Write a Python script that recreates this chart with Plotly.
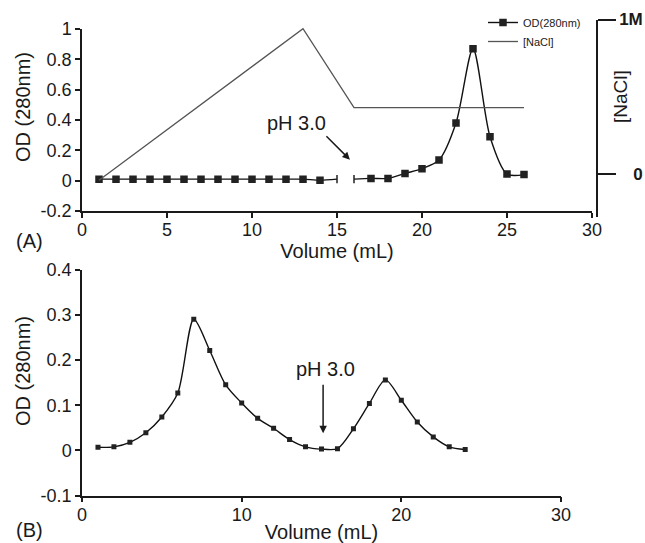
import plotly.graph_objects as go

# ---------------- data ----------------
# Panel A: OD(280nm) in two segments (gap around the pH 3.0 switch)
vol_a1 = [1, 2, 3, 4, 5, 6, 7, 8, 9, 10, 11, 12, 13, 14, 15]
od_a1 = [0.01, 0.01, 0.01, 0.01, 0.01, 0.01, 0.01, 0.01, 0.01, 0.01, 0.01, 0.01, 0.01, 0.003, 0.01]
vol_a2 = [16, 17, 18, 19, 20, 21, 22, 23, 24, 25, 26]
od_a2 = [0.01, 0.015, 0.015, 0.048, 0.079, 0.136, 0.38, 0.87, 0.29, 0.044, 0.04]

# Panel A: NaCl gradient (right axis, M)
vol_nacl = [1, 13, 16, 26]
nacl = [-0.04, 0.94, 0.43, 0.43]

# Panel B: OD(280nm)
vol_b = [1, 2, 3, 4, 5, 6, 7, 8, 9, 10, 11, 12, 13, 14, 15, 16, 17, 18, 19, 20, 21, 22, 23, 24]
od_b = [0.007, 0.008, 0.018, 0.039, 0.074, 0.127, 0.29, 0.221, 0.145, 0.105, 0.071, 0.049,
        0.024, 0.008, 0.003, 0.004, 0.048, 0.104, 0.156, 0.111, 0.063, 0.030, 0.008, 0.002]

# tick labels
a_yticks = [-0.2, 0, 0.2, 0.4, 0.6, 0.8, 1]
a_ytext = ["-0.2", "0", "0.2", "0.4", "0.6", "0.8", "1"]
a_xticks = [0, 5, 10, 15, 20, 25, 30]
b_yticks = [-0.1, 0, 0.1, 0.2, 0.3, 0.4]
b_ytext = ["-0.1", "0", "0.1", "0.2", "0.3", "0.4"]
b_xticks = [0, 10, 20, 30]
nacl_ticks = [0, 1]
nacl_text = ["<b>\u2007\u00a00</b>", "<b>1M</b>"]

# ---------------- layout helpers ----------------
W, H = 645, 543
def fx(p):
    return p / W
def fy(p):
    return 1 - p / H

FONT = "Liberation Sans, Arial, Helvetica, sans-serif"
TXT = "#1a1a1a"
LINE = "#1a1a1a"

# combined A series with a break
x_a = vol_a1 + [None] + vol_a2
y_a = od_a1 + [None] + od_a2
sym_a = (["square"] * (len(vol_a1) - 1) + ["line-ns"] + ["square"]
         + ["line-ns"] + ["square"] * (len(vol_a2) - 1))

fig = go.Figure()

fig.add_trace(go.Scatter(
    x=x_a, y=y_a, mode="lines+markers", name="OD(280nm)",
    line=dict(color="#111111", width=1.4, shape="spline", smoothing=0.8),
    marker=dict(symbol=sym_a, size=6, color="#222222",
                line=dict(color="#222222", width=1.5)),
    connectgaps=False, xaxis="x", yaxis="y",
))
fig.add_trace(go.Scatter(
    x=vol_nacl, y=nacl, mode="lines", name="[NaCl]",
    line=dict(color="#555555", width=1.3),
    xaxis="x3", yaxis="y3",
))
fig.add_trace(go.Scatter(
    x=vol_b, y=od_b, mode="lines+markers", name="OD(280nm) B", showlegend=False,
    line=dict(color="#111111", width=1.4, shape="spline", smoothing=0.8),
    marker=dict(symbol="square", size=5, color="#222222"),
    xaxis="x2", yaxis="y2",
))

axis_common = dict(showgrid=False, zeroline=False, showline=True, linecolor=LINE,
                   linewidth=1.5, ticks="outside", ticklen=5, tickwidth=1.5,
                   tickcolor=LINE, tickfont=dict(size=18, color=TXT, family=FONT),
                   automargin=False)

fig.update_layout(
    width=W, height=H,
    margin=dict(l=0, r=0, t=0, b=0),
    paper_bgcolor="white", plot_bgcolor="rgba(0,0,0,0)",
    font=dict(family=FONT, color=TXT),
    showlegend=True,
    legend=dict(x=fx(483), y=fy(8), xanchor="left", yanchor="top",
                font=dict(size=11, color=TXT, family=FONT),
                bgcolor="rgba(0,0,0,0)", borderwidth=0,
                tracegroupgap=0),
    xaxis=dict(domain=[fx(82), fx(592)], range=[0, 30], tickvals=a_xticks,
               anchor="y", ticklabelstandoff=-3,
               title=dict(text="Volume (mL)", font=dict(size=20, color=TXT), standoff=0),
               **axis_common),
    yaxis=dict(domain=[fy(211), fy(29)], range=[-0.2, 1], tickvals=a_yticks,
               ticktext=a_ytext, anchor="x",
               **axis_common),
    # hidden x axis carrying the NaCl trace, same scale as panel A, ending at right axis
    xaxis3=dict(domain=[fx(82), fx(596)], range=[0, 514 / 17.0], visible=False,
                anchor="y3"),
    yaxis3=dict(domain=[fy(217), fy(19.5)], range=[-0.278, 1.0], tickvals=nacl_ticks,
                ticktext=nacl_text, anchor="x3", side="right",
                showgrid=False, zeroline=False, showline=True, linecolor=LINE,
                linewidth=1.5, ticks="outside", ticklen=18, tickwidth=1.5,
                tickcolor=LINE, tickfont=dict(size=17, color=TXT, family=FONT),
                automargin=False),
    xaxis2=dict(domain=[fx(82), fx(561)], range=[0, 30], tickvals=b_xticks,
                anchor="y2", ticklabelstandoff=-3,
                title=dict(text="Volume (mL)", font=dict(size=20, color=TXT), standoff=2),
                **axis_common),
    yaxis2=dict(domain=[fy(495.7), fy(269.5)], range=[-0.1, 0.4], tickvals=b_yticks,
                ticktext=b_ytext, anchor="x2",
                **axis_common),
)

ann_font = dict(size=20, color=TXT, family=FONT)
# y-axis titles
fig.add_annotation(x=fx(23), y=fy(107), xref="paper", yref="paper", text="OD (280nm)",
                   xanchor="center", yanchor="middle", textangle=-90,
                   showarrow=False, font=ann_font)
fig.add_annotation(x=fx(23), y=fy(371), xref="paper", yref="paper", text="OD (280nm)",
                   xanchor="center", yanchor="middle", textangle=-90,
                   showarrow=False, font=ann_font)
fig.add_annotation(x=fx(620), y=fy(97), xref="paper", yref="paper", text="[NaCl]",
                   xanchor="center", yanchor="middle",
                   textangle=-90, showarrow=False,
                   font=dict(size=19, color=TXT, family=FONT))
fig.add_annotation(x=12.6, y=0.38, xref="x", yref="y", text="pH 3.0",
                   xanchor="center", yanchor="middle",
                   showarrow=False, font=ann_font)
fig.add_annotation(x=15.76, y=0.138, xref="x", yref="y", text="",
                   showarrow=True, ax=-25, ay=-25, arrowhead=2, arrowsize=1,
                   arrowwidth=1.5, arrowcolor=LINE)
fig.add_annotation(x=15.28, y=0.18, xref="x2", yref="y2", text="pH 3.0",
                   xanchor="center", yanchor="middle",
                   showarrow=False, font=ann_font)
fig.add_annotation(x=15.1, y=0.038, xref="x2", yref="y2", text="",
                   showarrow=True, ax=0, ay=-50, arrowhead=2, arrowsize=1,
                   arrowwidth=1.5, arrowcolor=LINE)
fig.add_annotation(x=fx(29), y=fy(241), xref="paper", yref="paper", text="(A)",
                   xanchor="center", yanchor="middle",
                   showarrow=False, font=ann_font)
fig.add_annotation(x=fx(29), y=fy(530), xref="paper", yref="paper", text="(B)",
                   xanchor="center", yanchor="middle",
                   showarrow=False, font=ann_font)

fig.write_html("out.html", config={"displayModeBar": False},
               post_script="document.body.style.margin='0';")
